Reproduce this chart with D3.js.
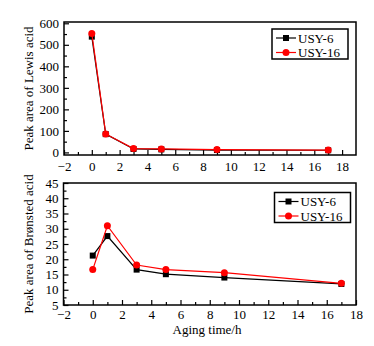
<!DOCTYPE html>
<html>
<head>
<meta charset="utf-8">
<script src="https://cdn.jsdelivr.net/npm/d3@7"></script>
<style>
body { margin: 0; background: #fff; }
svg text { font-family: "Liberation Serif", "DejaVu Serif", serif !important; }
</style>
</head>
<body>
<div></div>
<script>
// aging time (h)
var agingTime = [0, 1, 3, 5, 9, 17];

// Lewis acid peak area
var lewisUSY6 = [538, 85, 16, 14, 11, 10];
var lewisUSY16 = [553, 86, 18, 16, 13, 11];

// Bronsted acid peak area
var bronstedUSY6 = [21.2, 27.6, 16.6, 15.1, 14.0, 11.9];
var bronstedUSY16 = [16.6, 31.0, 18.1, 16.6, 15.6, 12.1];

var seriesNames = ["USY-6", "USY-16"];
var seriesColors = ["#000", "#ff0000"];

var xTicks = [-2, 0, 2, 4, 6, 8, 10, 12, 14, 16, 18];
var lewisTicks = [0, 100, 200, 300, 400, 500, 600];
var bronstedTicks = [5, 10, 15, 20, 25, 30, 35, 40, 45];

var fontFam = "Liberation Serif, DejaVu Serif, serif";

var svgContainer = d3.select("div")
	.append("svg")
	.attr("width", 374)
	.attr("height", 346)
	.attr("font-family", fontFam);

function drawPanel(opt) {
	var x = d3.scaleLinear().domain(opt.xDomain).range([opt.left, opt.right]);
	var y = d3.scaleLinear().domain(opt.yDomain).range([opt.bottom, opt.top]);
	var g = svgContainer.append("g");

	// minor ticks
	g.append("g")
		.attr("transform", "translate(0," + opt.bottom + ")")
		.call(d3.axisBottom(x).tickValues(opt.xMinor).tickSize(-3).tickFormat(""))
		.call(function (s) { s.select(".domain").remove(); });
	g.append("g")
		.attr("transform", "translate(" + opt.left + ",0)")
		.call(d3.axisLeft(y).tickValues(opt.yMinor).tickSize(-3).tickFormat(""))
		.call(function (s) { s.select(".domain").remove(); });

	// major ticks
	var xa = g.append("g")
		.attr("transform", "translate(0," + opt.bottom + ")")
		.call(d3.axisBottom(x).tickValues(xTicks).tickSize(-5).tickPadding(0).tickFormat(function (d) { return d < 0 ? "\u2212" + Math.abs(d) : d; }));
	xa.select(".domain").remove();
	xa.attr("font-family", fontFam);
	xa.selectAll("text").attr("y", opt.xLabelGap).attr("font-size", 13).attr("fill", "#000");

	var ya = g.append("g")
		.attr("transform", "translate(" + opt.left + ",0)")
		.call(d3.axisLeft(y).tickValues(opt.yTicks).tickSize(-5).tickPadding(0));
	ya.select(".domain").remove();
	ya.attr("font-family", fontFam);
	ya.selectAll("text").attr("x", -5).attr("font-size", 13).attr("fill", "#000");
	g.selectAll(".tick line").attr("stroke", "#000").attr("stroke-width", 1.2);

	// frame
	g.append("rect")
		.attr("x", opt.left).attr("y", opt.top)
		.attr("width", opt.right - opt.left).attr("height", opt.bottom - opt.top)
		.attr("fill", "none").attr("stroke", "#000").attr("stroke-width", 1.5);

	// y title
	g.append("text")
		.attr("transform", "translate(33," + ((opt.top + opt.bottom) / 2) + ") rotate(-90)")
		.attr("text-anchor", "middle")
		.attr("font-size", 13)
		.text(opt.yTitle);

	var line = d3.line()
		.x(function (d) { return x(d[0]); })
		.y(function (d) { return y(d[1]); });

	opt.series.forEach(function (vals, i) {
		var pts = agingTime.map(function (t, j) { return [t, vals[j]]; });
		g.append("path")
			.attr("d", line(pts))
			.attr("fill", "none")
			.attr("stroke", seriesColors[i])
			.attr("stroke-width", 1.2);
		pts.forEach(function (p) {
			drawMarker(g, i, x(p[0]), y(p[1]));
		});
	});

	// legend
	var lg = g.append("g");
	lg.append("rect")
		.attr("x", opt.legend.x).attr("y", opt.legend.y)
		.attr("width", opt.legend.w).attr("height", 30)
		.attr("fill", "#fff").attr("stroke", "#000").attr("stroke-width", 1.5);
	seriesNames.forEach(function (name, i) {
		var ly = opt.legend.y + 9 + i * 14.5;
		lg.append("line")
			.attr("x1", opt.legend.x + 4).attr("x2", opt.legend.x + 24)
			.attr("y1", ly).attr("y2", ly)
			.attr("stroke", seriesColors[i]).attr("stroke-width", 1.2);
		drawMarker(lg, i, opt.legend.x + 14, ly);
		lg.append("text")
			.attr("x", opt.legend.x + 26).attr("y", ly + 4.5)
			.attr("font-size", 13)
			.text(name);
	});
}

function drawMarker(g, i, cx, cy) {
	if (i === 0) {
		g.append("rect")
			.attr("x", cx - 3).attr("y", cy - 3)
			.attr("width", 6).attr("height", 6)
			.attr("fill", seriesColors[i]);
	} else {
		g.append("circle")
			.attr("cx", cx).attr("cy", cy).attr("r", 3.5)
			.attr("fill", seriesColors[i]);
	}
}

drawPanel({
	left: 64, right: 356, top: 22, bottom: 155,
	xDomain: [-2, 19], yDomain: [-12, 606],
	xMinor: d3.range(-1, 19, 2), yMinor: d3.range(50, 600, 100),
	yTicks: lewisTicks, xLabelGap: 7,
	yTitle: "Peak area of Lewis acid",
	series: [lewisUSY6, lewisUSY16],
	legend: { x: 272, y: 29, w: 76 }
});

drawPanel({
	left: 63.5, right: 356, top: 183, bottom: 305,
	xDomain: [-2, 18], yDomain: [5, 45],
	xMinor: d3.range(-1, 18, 2), yMinor: d3.range(7.5, 45, 5),
	yTicks: bronstedTicks, xLabelGap: 5,
	yTitle: "Peak area of Brønsted acid",
	series: [bronstedUSY6, bronstedUSY16],
	legend: { x: 274.5, y: 192.5, w: 76 }
});

svgContainer.append("text")
	.attr("x", 207).attr("y", 334)
	.attr("text-anchor", "middle")
	.attr("font-size", 13)
	.text("Aging time/h");
</script>
</body>
</html>
